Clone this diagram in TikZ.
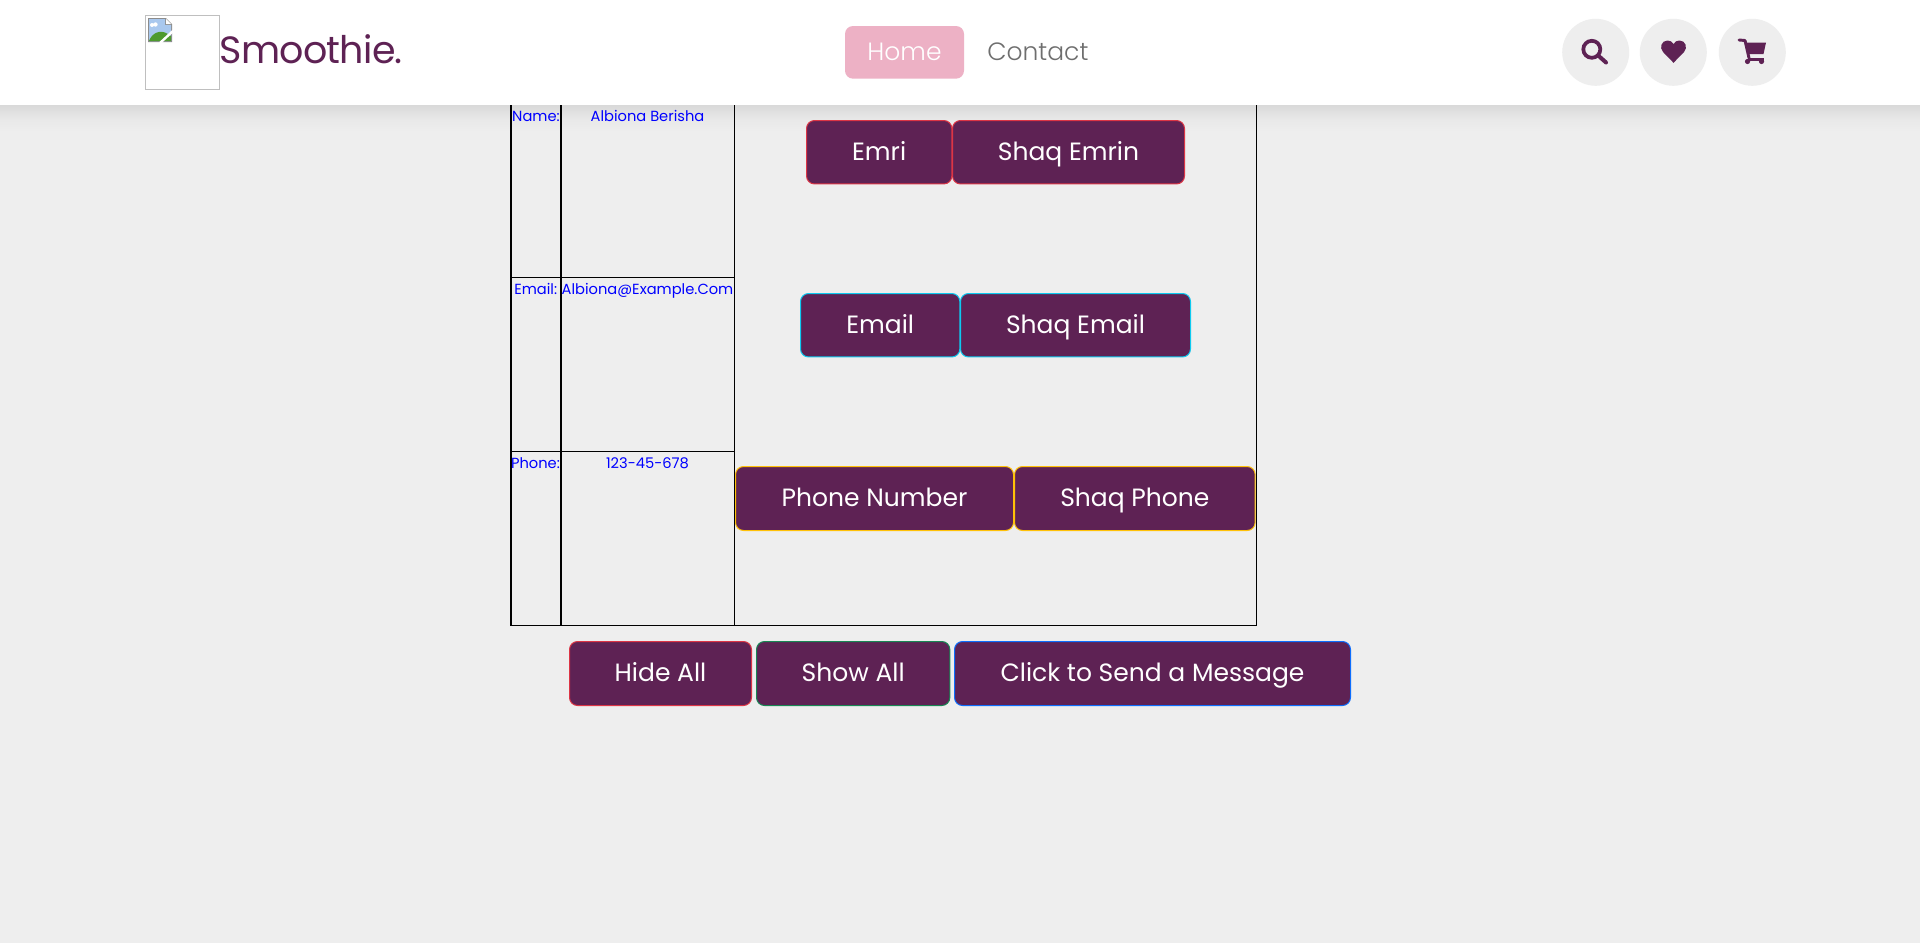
\documentclass[tikz,border=0pt]{standalone}
\usepackage{fontspec}
\setmainfont{Poppins}
\newfontfamily\poplight{Poppins Light}
\newfontfamily\popbrand[LetterSpace=-2]{Poppins}
\definecolor{pagebg}{HTML}{EEEEEE}
\definecolor{plum}{HTML}{5E2254}
\definecolor{pinkbox}{HTML}{EDB1C5}
\definecolor{navgray}{HTML}{6E6E6E}
\definecolor{bred}{HTML}{DC3545}
\definecolor{bcyan}{HTML}{0DCAF0}
\definecolor{byellow}{HTML}{FFC107}
\definecolor{bgreen}{HTML}{198754}
\definecolor{bblue}{HTML}{0D6EFD}
\definecolor{skyblue}{HTML}{A9C8EE}
\definecolor{hill}{HTML}{4E9A2E}
\tikzset{
  btn/.style={draw=#1,fill=plum,line width=0.75pt,rounded corners=6pt,text=white,inner xsep=0pt,inner ysep=0pt,outer sep=0pt,
    anchor=north west,text height=30pt,text depth=17.6pt,font=\fontsize{18.75pt}{24pt}\selectfont},
  celltext/.style={text=blue,inner sep=0pt,anchor=base,font=\fontsize{11pt}{15pt}\selectfont},
  thin rule/.style={line width=0.75pt,black},
  thick rule/.style={line width=1.5pt,black},
  round btn/.style={circle,fill=pagebg,minimum size=50.25pt,inner sep=0pt},
}
\begin{document}
\begin{tikzpicture}[x=0.75pt,y=-0.75pt]
\useasboundingbox (0,0) rectangle (1920,943);
\fill[pagebg] (0,0) rectangle (1920,943);
% header shadow
\shade[top color=black!15,bottom color=pagebg,middle color=black!9] (0,105) rectangle (1920,132);
% table
\draw[thick rule] (511,100) -- (511,625.5);
\draw[thick rule] (561,100) -- (561,625.5);
\draw[thin rule] (734.5,100) -- (734.5,625.5);
\draw[thin rule] (1256.5,100) -- (1256.5,625.5);
\draw[thin rule] (510,625.5) -- (1257,625.5);
\draw[thin rule] (511,277.5) -- (734.5,277.5);
\draw[thin rule] (511,451.5) -- (734.5,451.5);
\node[celltext] (name) at (536,121) {Name:};
\node[celltext] (nameval) at (647.5,121) {Albiona Berisha};
\node[celltext] (email) at (535.7,294.5) {Email:};
\node[celltext] (emailval) at (647.5,294.5) {Albiona@Example.Com};
\node[celltext] (phone) at (535.5,468) {Phone:};
\node[celltext] (phoneval) at (647.5,468) {123-45-678};
% buttons
\node[btn=bred,minimum width=109pt,minimum height=47.6pt] (b1) at (806.5,120.5) {Emri};
\node[btn=bred,minimum width=174pt,minimum height=47.6pt] (b2) at (952.5,120.5) {Shaq Emrin};
\node[btn=bcyan,minimum width=119.5pt,minimum height=47.6pt] (b3) at (800.5,293.5) {Email};
\node[btn=bcyan,minimum width=172.5pt,minimum height=47.6pt] (b4) at (960.5,293.5) {Shaq Email};
\node[btn=byellow,minimum width=208.5pt,minimum height=48pt] (b5) at (735.5,466.5) {Phone Number};
\node[btn=byellow,minimum width=180.5pt,minimum height=48pt] (b6) at (1014.5,466.5) {Shaq Phone};
\node[btn=bred,minimum width=136.5pt,minimum height=48pt] (b7) at (569.5,641.5) {Hide All};
\node[btn=bgreen,minimum width=145pt,minimum height=48pt] (b8) at (756.5,641.5) {Show All};
\node[btn=bblue,minimum width=297pt,minimum height=48pt] (b9) at (954.5,641.5) {Click to Send a Message};
% header
\fill[white] (0,0) rectangle (1920,105);
\draw[black!25,line width=0.75pt] (145.5,15.5) rectangle (219.5,89.5);
% broken image icon
\fill[black!45] (148,18) -- (166,18) -- (172,24) -- (172,42) -- (148,42) -- cycle;
\fill[white] (166,18.8) -- (171.2,24) -- (166,24) -- cycle;
\fill[skyblue] (149,19) -- (165,19) -- (165,25) -- (171,25) -- (171,41) -- (149,41) -- cycle;
\fill[white] (152,25) circle (2) (155.5,24.5) circle (2.2);
\fill[hill] (149,41) .. controls (152,33) and (160,29) .. (168,34) -- (171,36) -- (171,41) -- cycle;
\draw[white,line width=1.8pt] (160,43) -- (173,31);
\node[text=plum,inner sep=0pt,anchor=base west,font=\popbrand\fontsize{28.5pt}{36pt}\selectfont] (brand) at (219.5,63.5) {Smoothie.};
\node[fill=pinkbox,rounded corners=6pt,minimum width=89.25pt,minimum height=39.5pt,inner sep=0pt,outer sep=0pt,anchor=north west] (homebox) at (845,26) {};
\node[text=white,inner sep=0pt,anchor=base,font=\poplight\fontsize{18.75pt}{24pt}\selectfont] (home) at (904.5,60) {Home};
\node[text=navgray,inner sep=0pt,anchor=base west,font=\poplight\fontsize{18.75pt}{24pt}\selectfont] (contact) at (987,60) {Contact};
% round buttons
\node[round btn] (search) at (1595.7,52.3) {};
\node[round btn] (heart) at (1673.3,52.3) {};
\node[round btn] (cart) at (1752.3,52.3) {};
\draw[plum,line width=2.8pt] (1591.8,49.3) circle (8.5);
\draw[plum,line width=3pt,line cap=round] (1598.5,55.8) -- (1606,62.5);
\fill[plum] (1673.5,62.8) -- (1663,52) .. controls (1659,47.5) and (1661.5,40.5) .. (1667.5,40.5) .. controls (1670,40.5) and (1672,41.5) .. (1673.5,44) .. controls (1675,41.5) and (1677,40.5) .. (1679.5,40.5) .. controls (1685.5,40.5) and (1688,47.5) .. (1684,52) -- cycle;
\draw[plum,line width=2.2pt,line cap=round,line join=round] (1739,40) -- (1745,40.5) -- (1749,58);
\fill[plum] (1745,42.5) -- (1766,42.5) -- (1763.5,54) -- (1748,54) -- cycle;
\draw[plum,line width=2pt] (1748,59.5) -- (1764,59.5);
\fill[plum] (1747.5,61.5) circle (2.6) (1761.5,61.5) circle (2.6);
\end{tikzpicture}
\end{document}
